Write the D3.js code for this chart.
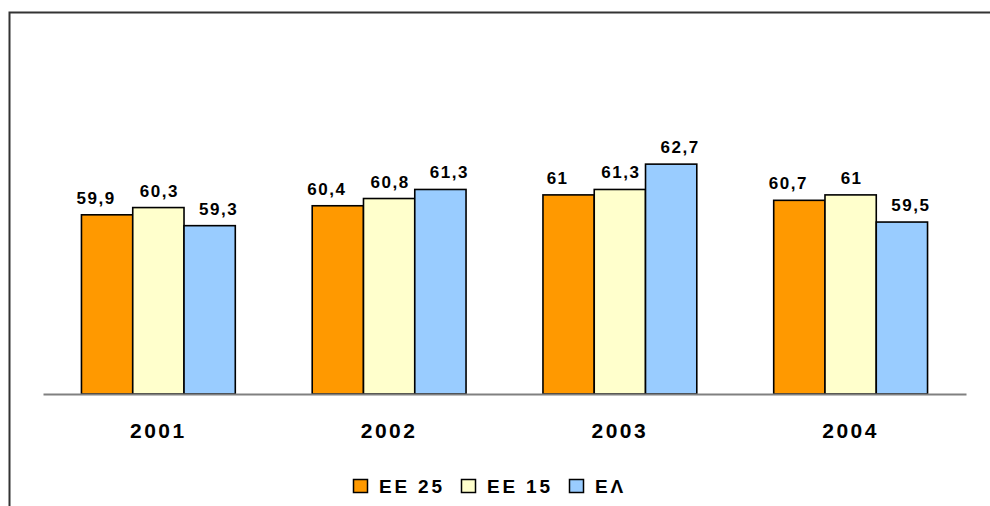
<!DOCTYPE html>
<html>
<head>
<meta charset="utf-8">
<script src="https://cdn.jsdelivr.net/npm/d3@7"></script>
<style>
  html, body { margin: 0; padding: 0; background: #fff; }
  svg { display: block; font-family: Arial, "Liberation Sans", sans-serif; }
</style>
</head>
<body>
<svg id="chart" width="990" height="506"></svg>
<script>
const categories = ["2001", "2002", "2003", "2004"];
const seriesNames = ["ΕΕ 25", "ΕΕ 15", "ΕΛ"];
const ee25 = [59.9, 60.4, 61, 60.7];
const ee15 = [60.3, 60.8, 61.3, 61];
const el = [59.3, 61.3, 62.7, 59.5];
const seriesValues = [ee25, ee15, el];
const colors = ["#FF9900", "#FFFFCC", "#99CCFF"];
const yDomain = [50, 70];

const svg = d3.select("#chart");

// frame
svg.append("path")
  .attr("d", "M9.5,506 L9.5,12.5 L990,12.5")
  .attr("fill", "none").attr("stroke", "#333").attr("stroke-width", 2);

const plotLeft = 43, plotRight = 966, baseY = 394, topY = 32;

const x0 = d3.scaleBand().domain(categories).range([plotLeft, plotRight])
  .paddingInner(1/3).paddingOuter(1/6);
const x1 = d3.scaleBand().domain(d3.range(seriesNames.length)).range([0, x0.bandwidth()]);
const y = d3.scaleLinear().domain(yDomain).range([baseY, topY]);

const data = [];
categories.forEach((c, i) => seriesValues.forEach((s, j) => data.push({c, j, v: s[i]})));

// bars
svg.append("g").selectAll("rect").data(data).join("rect")
  .attr("x", d => x0(d.c) + x1(d.j))
  .attr("y", d => y(d.v))
  .attr("width", x1.bandwidth())
  .attr("height", d => baseY - y(d.v))
  .attr("fill", d => colors[d.j])
  .attr("stroke", "#000").attr("stroke-width", 1.6);

// baseline axis
const xAxis = d3.axisBottom(x0).tickSize(0).tickPadding(0);
const gx = svg.append("g").attr("transform", `translate(0,${baseY})`).call(xAxis);
gx.select(".domain").attr("stroke", "#808080").attr("stroke-width", 2);
gx.selectAll(".tick text")
  .attr("dy", 0).attr("y", 44)
  .attr("font-size", 21).attr("font-weight", "bold").attr("fill", "#000")
  .style("letter-spacing", "2.5px")
  .attr("font-family", "Arial, 'Liberation Sans', sans-serif");

// value labels
const nudge = [-12, 0, 8];
const fmt = v => String(v).replace(".", ",");
svg.append("g").selectAll("text").data(data).join("text")
  .attr("x", d => x0(d.c) + x1(d.j) + x1.bandwidth() / 2 + nudge[d.j] + 1)
  .attr("y", d => y(d.v) - 11)
  .attr("text-anchor", "middle")
  .attr("font-size", 17).attr("font-weight", "bold")
  .style("letter-spacing", "1.5px")
  .text(d => fmt(d.v));

// legend
const legendX = [353, 461, 569];
const lg = svg.append("g");
seriesNames.forEach((n, j) => {
  const g = lg.append("g").attr("transform", `translate(${legendX[j]},479)`);
  g.append("rect").attr("x", 0.5).attr("y", 0.5).attr("width", 14).attr("height", 13)
    .attr("fill", colors[j]).attr("stroke", "#000").attr("stroke-width", 1.5);
  g.append("text").attr("x", 26).attr("y", 14)
    .attr("font-size", 19).attr("font-weight", "bold")
    .style("letter-spacing", "2.8px")
    .text(n);
});
</script>
</body>
</html>
